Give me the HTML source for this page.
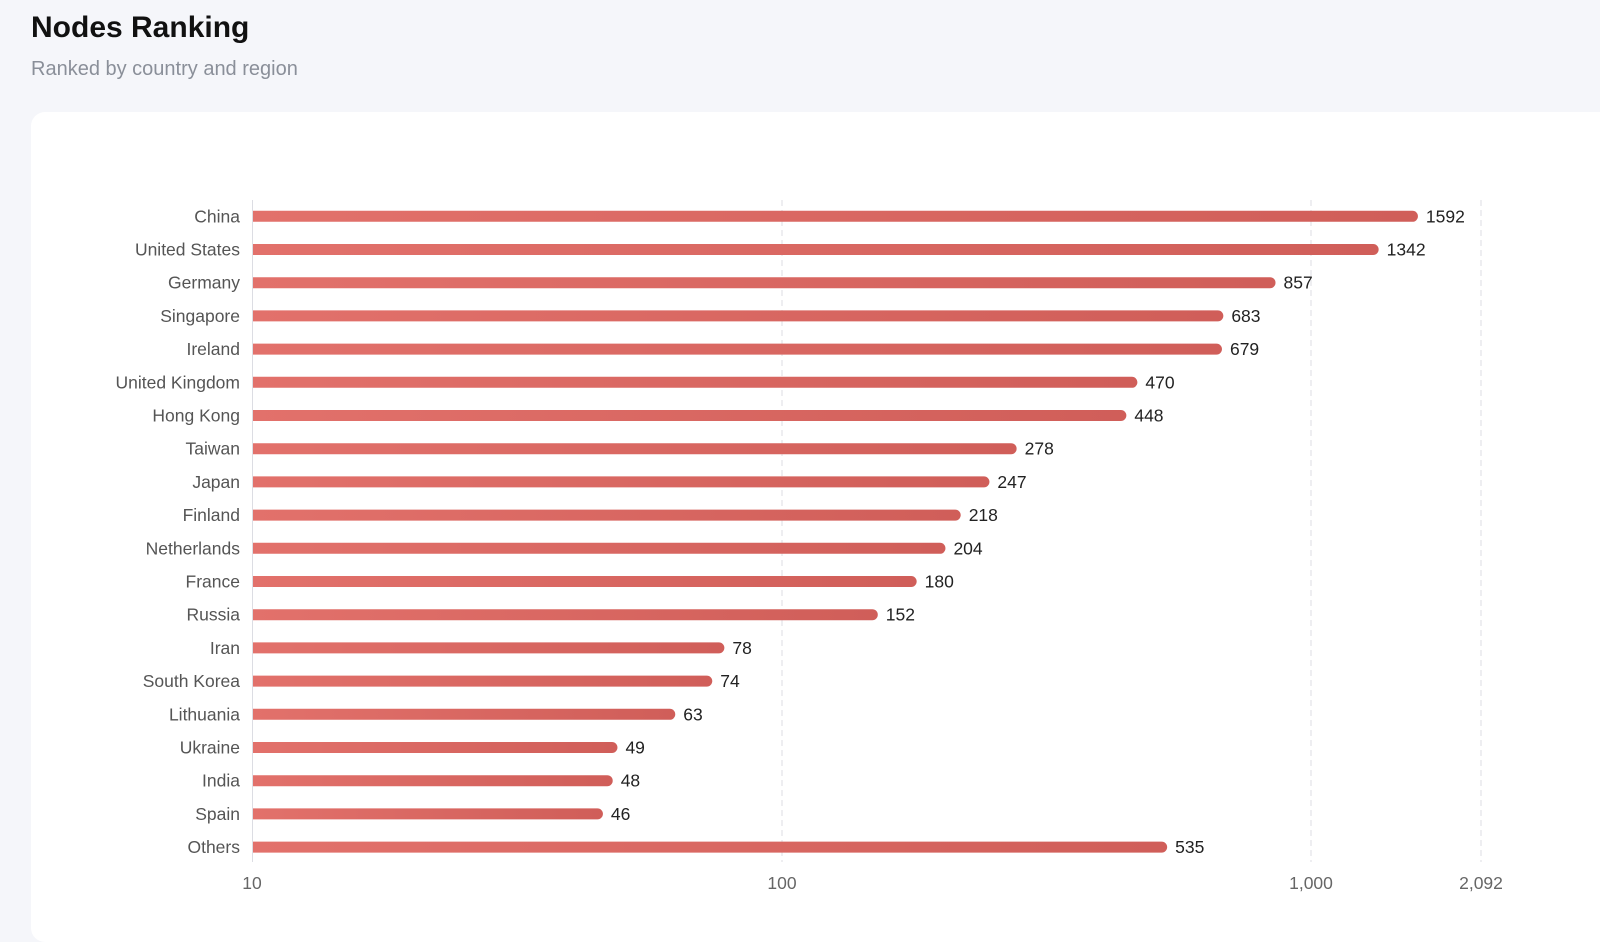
<!DOCTYPE html>
<html><head><meta charset="utf-8"><style>
body{margin:0;width:1600px;height:923px;background:#f5f6fa;font-family:"Liberation Sans",sans-serif;overflow:hidden;position:relative}
h1{position:absolute;left:31px;top:11px;margin:0;font-size:30px;font-weight:bold;color:#111}
.sub{position:absolute;left:31px;top:58px;font-size:20px;color:#8a8f99}
.card{position:absolute;left:31px;top:112px;width:1600px;height:830px;background:#fff;border-radius:14px}
svg{position:absolute;left:0;top:0}
</style></head><body>
<h1>Nodes Ranking</h1>
<div class="sub">Ranked by country and region</div>
<div class="card"></div>
<svg width="1600" height="923" xmlns="http://www.w3.org/2000/svg">
<defs><linearGradient id="g" x1="0" x2="1" y1="0" y2="0"><stop offset="0" stop-color="#e2716b"/><stop offset="1" stop-color="#d05e59"/></linearGradient></defs>
<g stroke="#dcdde3" stroke-width="1" stroke-dasharray="6,4">
<line x1="782" y1="200" x2="782" y2="862"/><line x1="1311" y1="200" x2="1311" y2="862"/><line x1="1481" y1="200" x2="1481" y2="862"/>
</g>
<line x1="252.5" y1="200" x2="252.5" y2="862" stroke="#dcdde3"/>
<g id="bars" font-size="17.5" fill="#222"></g>
<g font-size="17.5" fill="#666" text-anchor="middle">
<text x="252" y="889">10</text><text x="782" y="889">100</text><text x="1311" y="889">1,000</text><text x="1481" y="889">2,092</text>
</g>
</svg>
<script>
var d=[["China",1592],["United States",1342],["Germany",857],["Singapore",683],["Ireland",679],["United Kingdom",470],["Hong Kong",448],["Taiwan",278],["Japan",247],["Finland",218],["Netherlands",204],["France",180],["Russia",152],["Iran",78],["South Korea",74],["Lithuania",63],["Ukraine",49],["India",48],["Spain",46],["Others",535]];
var g=document.getElementById("bars"),s="";
d.forEach(function(r,i){var y=216.3+i*33.2;var x=252+529.5*(Math.log10(r[1])-1);
s+='<path d="M253 '+(y-5.5)+'H'+(x-5.5)+'a5.5 5.5 0 0 1 0 11H253Z" fill="url(#g)"/>';
s+='<text x="'+(x+8)+'" y="'+(y+6)+'" fill="#222">'+r[1]+'</text>';
s+='<text x="240" y="'+(y+6)+'" text-anchor="end" fill="#555">'+r[0]+'</text>';});
g.innerHTML=s;
</script>
</body></html>
